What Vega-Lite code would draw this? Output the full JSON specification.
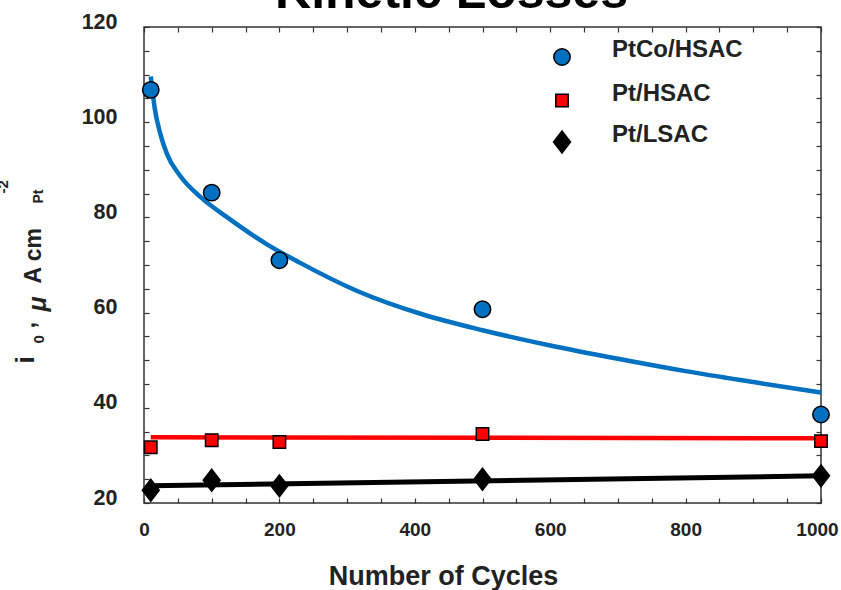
{
  "$schema": "https://vega.github.io/schema/vega-lite/v6.json",
  "width": 677,
  "height": 476,
  "autosize": {"type": "none"},
  "padding": {"left": 144, "top": 27, "right": 20, "bottom": 87},
  "background": "white",
  "title": {
    "text": "Kinetic Losses",
    "font": "Liberation Sans",
    "fontSize": 50,
    "fontWeight": "bold",
    "color": "black",
    "anchor": "middle",
    "frame": "group",
    "baseline": "alphabetic",
    "offset": 0,
    "dx": -31,
    "dy": 47
  },
  "config": {
    "font": "Liberation Sans",
    "view": {"stroke": "#333333", "strokeWidth": 1.5},
    "axis": {
      "domain": false,
      "grid": false,
      "labelFont": "Liberation Sans",
      "labelFontWeight": "bold",
      "labelFontSize": 19,
      "labelColor": "#222222",
      "labelOverlap": false,
      "labelFlush": false,
      "tickColor": "#333333",
      "tickWidth": 1.2,
      "titleFont": "Liberation Sans",
      "titleFontWeight": "bold",
      "titleColor": "#222222",
      "titleAlign": "left",
      "titleBaseline": "alphabetic"
    }
  },
  "datasets": {
    "obs": [
      {"cycles": 10, "i0": 106.8, "series": "PtCo/HSAC"},
      {"cycles": 100, "i0": 85.2, "series": "PtCo/HSAC"},
      {"cycles": 200, "i0": 71.0, "series": "PtCo/HSAC"},
      {"cycles": 500, "i0": 60.7, "series": "PtCo/HSAC"},
      {"cycles": 1000, "i0": 38.6, "series": "PtCo/HSAC"},
      {"cycles": 10, "i0": 31.7, "series": "Pt/HSAC"},
      {"cycles": 100, "i0": 33.2, "series": "Pt/HSAC"},
      {"cycles": 200, "i0": 32.8, "series": "Pt/HSAC"},
      {"cycles": 500, "i0": 34.5, "series": "Pt/HSAC"},
      {"cycles": 1000, "i0": 33.0, "series": "Pt/HSAC"},
      {"cycles": 10, "i0": 22.7, "series": "Pt/LSAC"},
      {"cycles": 100, "i0": 24.8, "series": "Pt/LSAC"},
      {"cycles": 200, "i0": 23.6, "series": "Pt/LSAC"},
      {"cycles": 500, "i0": 25.0, "series": "Pt/LSAC"},
      {"cycles": 1000, "i0": 25.7, "series": "Pt/LSAC"}
    ],
    "fit_ptco": [
      {"cycles": 10, "i0": 109.6},
      {"cycles": 16, "i0": 102.8},
      {"cycles": 24, "i0": 97.6},
      {"cycles": 34, "i0": 93.3},
      {"cycles": 53, "i0": 88.8},
      {"cycles": 85, "i0": 84.1},
      {"cycles": 122, "i0": 80.1},
      {"cycles": 181, "i0": 74.4},
      {"cycles": 230, "i0": 70.5},
      {"cycles": 314, "i0": 64.6},
      {"cycles": 412, "i0": 59.6},
      {"cycles": 500, "i0": 56.3},
      {"cycles": 600, "i0": 53.1},
      {"cycles": 700, "i0": 50.3},
      {"cycles": 800, "i0": 47.7},
      {"cycles": 900, "i0": 45.4},
      {"cycles": 1000, "i0": 43.2}
    ],
    "fit_pt_hsac": [
      {"cycles": 10, "i0": 33.8},
      {"cycles": 1000, "i0": 33.6}
    ],
    "fit_pt_lsac": [
      {"cycles": 10, "i0": 23.6},
      {"cycles": 1000, "i0": 25.7}
    ]
  },
  "resolve": {"axis": {"x": "independent", "y": "independent"}},
  "layer": [
    {
      "data": {"name": "fit_ptco"},
      "mark": {"type": "line", "color": "#0070C0", "strokeWidth": 4.5, "interpolate": "monotone"},
      "encoding": {
        "x": {
          "field": "cycles", "type": "quantitative",
          "scale": {"domain": [0, 1000], "nice": false},
          "axis": {
            "orient": "bottom",
            "values": [0, 50, 100, 150, 200, 250, 300, 350, 400, 450, 500, 550, 600, 650, 700, 750, 800, 850, 900, 950, 1000],
            "format": "d",
            "labelExpr": "datum.value % 200 === 0 ? datum.label : ''",
            "labelOffset": {"expr": "datum.value === 1000 ? -4 : 0"},
            "tickSize": -5,
            "labelPadding": 22,
            "title": "Number of Cycles",
            "titleFontSize": 27,
            "titleAlign": "center",
            "titleX": 299,
            "titleY": 81
          }
        },
        "y": {
          "field": "i0", "type": "quantitative",
          "scale": {"domain": [20, 120], "nice": false, "zero": false},
          "axis": {
            "orient": "left",
            "values": [20, 25, 30, 35, 40, 45, 50, 55, 60, 65, 70, 75, 80, 85, 90, 95, 100, 105, 110, 115, 120],
            "labelExpr": "datum.value % 20 === 0 ? datum.label : ''",
            "labelFontSize": 21.5,
            "tickSize": -5,
            "labelPadding": 32,
            "labelOffset": -5,
            "title": "i",
            "titleFontSize": 26,
            "titleAngle": -90,
            "titleX": -111,
            "titleY": 336
          }
        }
      }
    },
    {
      "data": {"name": "fit_pt_hsac"},
      "mark": {"type": "line", "color": "#FF0000", "strokeWidth": 4.5},
      "encoding": {
        "x": {
          "field": "cycles", "type": "quantitative",
          "axis": {
            "orient": "top",
            "values": [0, 50, 100, 150, 200, 250, 300, 350, 400, 450, 500, 550, 600, 650, 700, 750, 800, 850, 900, 950, 1000],
            "labels": false,
            "tickSize": -5,
            "title": "Pt",
            "titleFontSize": 14,
            "titleAngle": -90,
            "titleX": -102,
            "titleY": 176
          }
        },
        "y": {
          "field": "i0", "type": "quantitative",
          "axis": {
            "orient": "right",
            "values": [20, 25, 30, 35, 40, 45, 50, 55, 60, 65, 70, 75, 80, 85, 90, 95, 100, 105, 110, 115, 120],
            "labels": false,
            "tickSize": -5,
            "title": "0",
            "titleFontSize": 15,
            "titleAngle": -90,
            "titleX": -778,
            "titleY": 316
          }
        }
      }
    },
    {
      "data": {"name": "fit_pt_lsac"},
      "mark": {"type": "line", "color": "#000000", "strokeWidth": 5},
      "encoding": {
        "x": {
          "field": "cycles", "type": "quantitative",
          "axis": {
            "orient": "bottom",
            "labels": false,
            "ticks": false,
            "title": "-2",
            "titleFontSize": 15,
            "titleAngle": -90,
            "titleX": -137,
            "titleY": -310
          }
        },
        "y": {
          "field": "i0", "type": "quantitative",
          "axis": {
            "orient": "left",
            "labels": false,
            "ticks": false,
            "title": ",",
            "titleFontSize": 24,
            "titleAngle": -90,
            "titleX": -110,
            "titleY": 301
          }
        }
      }
    },
    {
      "data": {"name": "obs"},
      "mark": {"type": "point", "filled": true, "opacity": 1, "size": 484, "stroke": "#000000", "strokeWidth": 1.5},
      "encoding": {
        "x": {
          "field": "cycles", "type": "quantitative",
          "axis": {
            "orient": "bottom",
            "labels": false,
            "ticks": false,
            "title": "A cm",
            "titleFontSize": 23,
            "titleAngle": -90,
            "titleX": -104,
            "titleY": -220
          }
        },
        "y": {
          "field": "i0", "type": "quantitative",
          "axis": {
            "orient": "left",
            "labels": false,
            "ticks": false,
            "title": "μ",
            "titleFontSize": 25,
            "titleFontStyle": "italic",
            "titleAngle": -90,
            "titleX": -99,
            "titleY": 284
          }
        },
        "color": {
          "field": "series", "type": "nominal",
          "scale": {"domain": ["PtCo/HSAC", "Pt/HSAC", "Pt/LSAC"], "range": ["#0070C0", "#FF0000", "#000000"]},
          "legend": {
            "orient": "none",
            "legendX": 406,
            "legendY": 18,
            "title": null,
            "padding": 0,
            "symbolSize": 484,
            "symbolStrokeColor": "#000000",
            "symbolStrokeWidth": 1.5,
            "labelFont": "Liberation Sans",
            "labelFontSize": 24,
            "labelFontWeight": "bold",
            "labelColor": "#222222",
            "labelOffset": 38,
            "labelBaseline": "alphabetic",
            "labelLimit": 300,
            "rowPadding": 12.5
          }
        },
        "shape": {
          "field": "series", "type": "nominal",
          "scale": {
            "domain": ["PtCo/HSAC", "Pt/HSAC", "Pt/LSAC"],
            "range": [
              "M-0.745,0A0.745,0.745,0,1,1,0.745,0A0.745,0.745,0,1,1,-0.745,0Z",
              "M-0.565,-0.565L0.565,-0.565L0.565,0.565L-0.565,0.565Z",
              "M0,-1L0.77,0L0,1L-0.77,0Z"
            ]
          }
        }
      }
    }
  ]
}
